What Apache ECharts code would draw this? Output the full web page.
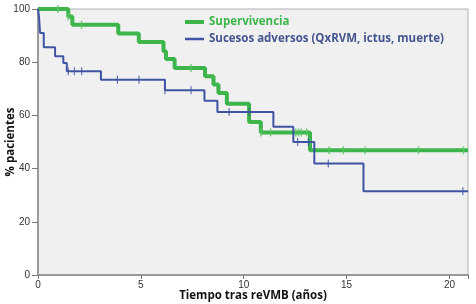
<!DOCTYPE html>
<html>
<head>
<meta charset="utf-8">
<script src="https://cdn.jsdelivr.net/npm/echarts@6/dist/echarts.min.js"></script>
<style>
    html, body { margin: 0; padding: 0; background: #fff; }
    #charts { width: 476px; height: 304px; }
</style>
</head>
<body>
<div id="charts"></div>
<script>
// curva de supervivencia (tiempo en años, % pacientes)
var survTimes = [0, 1.47, 1.67, 3.9, 4.9, 6.1, 6.22, 6.64, 8.12, 8.53, 8.77, 9.18, 10.26, 10.83, 13.22, 20.9];
var survValues = [100, 97.2, 94.1, 90.8, 87.6, 84.1, 81.2, 77.8, 74.7, 71.6, 68.4, 64.4, 57.5, 53.6, 46.9, 46.9];
var survCensors = [0.97, 1.47, 2.12, 7.44, 10.83, 11.31, 12.53, 12.66, 12.79, 13.06, 14.15, 14.84, 15.9, 18.49, 20.68];

// sucesos adversos
var advTimes = [0, 0.05, 0.1, 0.28, 0.83, 1.23, 1.4, 3.06, 6.17, 8.09, 8.72, 11.44, 12.41, 13.43, 15.82, 20.9];
var advValues = [100, 97, 91.0, 85.6, 82.2, 79.7, 76.6, 73.4, 69.5, 65.5, 61.3, 55.7, 50.0, 41.9, 31.5, 31.5];
var advCensors = [1.47, 1.77, 2.12, 3.86, 4.91, 6.17, 7.44, 9.29, 10.26, 12.62, 13.14, 14.11, 20.65];

var xTicks = [0, 5, 10, 15, 20];
var yTicks = [0, 20, 40, 60, 80, 100];

var green = '#3db54a';
var blue = '#3f55a3';

function pairs(t, v) {
    return t.map(function (x, i) { return [x, v[i]]; });
}
// valor de la curva escalonada en el tiempo t (para colocar las marcas de censura)
function levelAt(t, times, vals) {
    var v = vals[0];
    for (var i = 0; i < times.length; i++) {
        if (times[i] <= t) v = vals[i];
    }
    return v;
}
function censorPts(c, times, vals) {
    return c.map(function (t) { return [t, levelAt(t, times, vals)]; });
}

var myChart = echarts.init(document.getElementById('charts'));
var option = {
    animation: false,
    textStyle: { fontFamily: 'Liberation Sans' },
    grid: {
        left: 38, right: 8, top: 9, bottom: 29,
        containLabel: false,
        outerBoundsMode: 'none',
        show: true,
        backgroundColor: '#f0f0f0',
        borderColor: '#b0b0b0',
        borderWidth: 1
    },
    legend: [{
        data: ['Supervivencia'],
        left: 180, top: 11,
        itemWidth: 19, itemHeight: 4, itemGap: 6,
        icon: 'rect',
        textStyle: { color: green, fontWeight: 'bold', fontSize: 11.5, fontFamily: 'Open Sans' }
    }, {
        data: ['Sucesos adversos (QxRVM, ictus, muerte)'],
        left: 180, top: 28,
        itemWidth: 19, itemHeight: 2.5, itemGap: 6,
        icon: 'rect',
        textStyle: { color: '#44558f', fontWeight: 'bold', fontSize: 11.5, fontFamily: 'Open Sans' }
    }],
    xAxis: {
        type: 'value',
        min: 0, max: 20.9, interval: 5,
        name: 'Tiempo tras reVMB (años)',
        nameLocation: 'middle',
        nameGap: 15,
        nameMoveOverlap: false,
        nameTextStyle: { fontWeight: 'bold', fontSize: 11.5, color: '#111', fontFamily: 'Open Sans' },
        axisLine: { lineStyle: { color: '#9a9a9a', width: 2 } },
        axisTick: { length: 4, lineStyle: { color: '#777' } },
        axisLabel: {
            fontSize: 10, color: '#333', margin: 5,
            formatter: function (v) { return xTicks.indexOf(v) >= 0 ? String(v) : ''; }
        },
        splitLine: { show: false }
    },
    yAxis: {
        type: 'value',
        min: 0, max: 100, interval: 20,
        name: '% pacientes',
        nameLocation: 'middle',
        nameGap: 21,
        nameMoveOverlap: false,
        nameTextStyle: { fontWeight: 'bold', fontSize: 11.5, color: '#111', fontFamily: 'Open Sans' },
        axisLine: { show: true, lineStyle: { color: '#9a9a9a', width: 2 } },
        axisTick: { show: true, length: 6, lineStyle: { color: '#777' } },
        axisLabel: {
            fontSize: 10, color: '#333', margin: 8,
            formatter: function (v) { return yTicks.indexOf(v) >= 0 ? String(v) : ''; }
        },
        splitLine: { show: false }
    },
    series: [{
        name: 'Supervivencia',
        type: 'line',
        step: 'end',
        showSymbol: false,
        color: green,
        lineStyle: { width: 4, color: green },
        data: pairs(survTimes, survValues),
        z: 2
    }, {
        name: 'Sucesos adversos (QxRVM, ictus, muerte)',
        type: 'line',
        step: 'end',
        showSymbol: false,
        color: blue,
        lineStyle: { width: 2, color: blue },
        data: pairs(advTimes, advValues),
        z: 3
    }, {
        name: 'Supervivencia',
        type: 'scatter',
        symbol: 'rect',
        symbolSize: [1.5, 8],
        itemStyle: { color: '#5cc466' },
        data: censorPts(survCensors, survTimes, survValues),
        z: 4
    }, {
        name: 'Sucesos adversos (QxRVM, ictus, muerte)',
        type: 'scatter',
        symbol: 'rect',
        symbolSize: [1.2, 8],
        itemStyle: { color: blue },
        data: censorPts(advCensors, advTimes, advValues),
        z: 4
    }]
};
myChart.setOption(option);
</script>
</body>
</html>
